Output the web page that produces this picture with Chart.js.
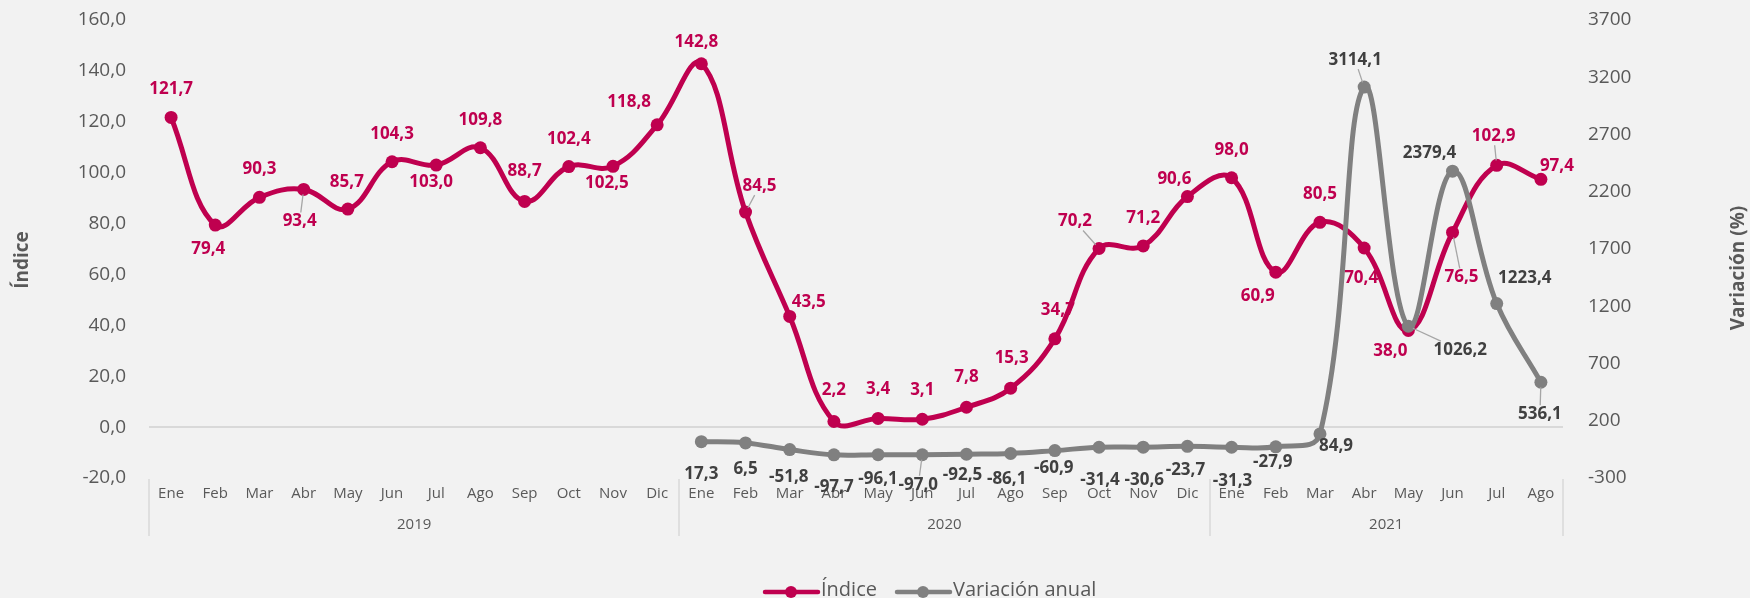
<!DOCTYPE html>
<html lang="es">
<head>
<meta charset="UTF-8">
<title>Índice y variación anual</title>
<script src="https://cdn.jsdelivr.net/npm/chart.js"></script>
<style>
    body {
        margin: 0;
        background-color: #f2f2f2;
    }
    .chart-box {
        width: 1750px;
        height: 598px;
    }
</style>
</head>
<body>
<div class="chart-box"><canvas id="indexChart"></canvas></div>
<script>
const years = ['2019', '2020', '2021'];
const monthsByYear = [
    ['Ene', 'Feb', 'Mar', 'Abr', 'May', 'Jun', 'Jul', 'Ago', 'Sep', 'Oct', 'Nov', 'Dic'],
    ['Ene', 'Feb', 'Mar', 'Abr', 'May', 'Jun', 'Jul', 'Ago', 'Sep', 'Oct', 'Nov', 'Dic'],
    ['Ene', 'Feb', 'Mar', 'Abr', 'May', 'Jun', 'Jul', 'Ago']
];

const indice = [
    121.7, 79.4, 90.3, 93.4, 85.7, 104.3, 103.0, 109.8, 88.7, 102.4, 102.5, 118.8,
    142.8, 84.5, 43.5, 2.2, 3.4, 3.1, 7.8, 15.3, 34.7, 70.2, 71.2, 90.6,
    98.0, 60.9, 80.5, 70.4, 38.0, 76.5, 102.9, 97.4
];
const variacion = [
    null, null, null, null, null, null, null, null, null, null, null, null,
    17.3, 6.5, -51.8, -97.7, -96.1, -97.0, -92.5, -86.1, -60.9, -31.4, -30.6, -23.7,
    -31.3, -27.9, 84.9, 3114.1, 1026.2, 2379.4, 1223.4, 536.1
];

// where each value label sits relative to its point: [dx, dy, leader line]
const indiceLabelPos = [
    [0, -28], [-7, 24], [0, -28], [-4, 32, true], [-1, -27], [0, -28], [-5, 17], [0, -28],
    [0, -30], [0, -27], [-6, 17], [-28, -23],
    [-5, -22], [14, -26, true], [19, -14], [0, -31], [0, -29], [0, -29], [0, -30], [1, -30],
    [3, -29], [-24, -27, true], [0, -28], [-13, -17],
    [0, -28], [-18, 24], [0, -28], [-3, 30], [-18, 21], [9, 45, true], [-3, -29, true], [16, -13]
];
const variacionLabelPos = [
    null, null, null, null, null, null, null, null, null, null, null, null,
    [0, 32], [0, 26], [-1, 28], [0, 32], [0, 25], [-4, 30, true], [-4, 21], [-4, 26],
    [-1, 18], [1, 33], [1, 33], [-2, 24],
    [1, 34], [-3, 15], [16, 12], [-9, -27, true], [52, 24, true], [-23, -18], [28, -25], [-1, 32, true]
];

const CRIMSON = '#bf004f';
const GRAY = '#808080';
const TEXT = '#595959';

const labels = monthsByYear.flat();
const labelSetup = [
    { pos: indiceLabelPos, color: CRIMSON },
    { pos: variacionLabelPos, color: '#404040' }
];

const fmt = v => v.toFixed(1).replace('.', ',');

// value labels, drawn right after each line so later lines pass over them
const pointLabels = {
    id: 'pointLabels',
    afterDatasetDraw(chart, args) {
        const ctx = chart.ctx;
        const setup = labelSetup[args.index];
        const values = chart.data.datasets[args.index].data;
        ctx.save();
        ctx.font = 'bold 17px "Open Sans"';
        ctx.textAlign = 'center';
        ctx.textBaseline = 'middle';
        args.meta.data.forEach((pt, i) => {
            const v = values[i];
            const p = setup.pos[i];
            if (v === null || !p) return;
            const [dx, dy, leader] = p;
            const text = fmt(v);
            if (leader) {
                const len = Math.hypot(dx, dy);
                const ux = dx / len, uy = dy / len;
                const hw = ctx.measureText(text).width / 2 + 2;
                const t = Math.min(hw / Math.max(Math.abs(ux), 1e-6), 9 / Math.max(Math.abs(uy), 1e-6));
                const end = len - t;
                if (end > 8) {
                    ctx.strokeStyle = '#a6a6a6';
                    ctx.lineWidth = 1.3;
                    ctx.beginPath();
                    ctx.moveTo(pt.x + ux * 5, pt.y + uy * 5);
                    ctx.lineTo(pt.x + ux * end, pt.y + uy * end);
                    ctx.stroke();
                }
            }
            ctx.fillStyle = setup.color;
            ctx.fillText(text, pt.x + dx, pt.y + dy);
        });
        ctx.restore();
    }
};

// year groups under the months, axis titles and the legend
const frame = {
    id: 'frame',
    afterDraw(chart) {
        const ctx = chart.ctx;
        const xs = chart.scales.x;
        const area = chart.chartArea;
        const step = xs.width / labels.length;
        ctx.save();

        ctx.strokeStyle = '#d9d9d9';
        ctx.lineWidth = 1.5;
        ctx.fillStyle = TEXT;
        ctx.font = '15px "Open Sans"';
        ctx.textAlign = 'center';
        ctx.textBaseline = 'middle';
        let start = 0;
        const edges = [];
        monthsByYear.forEach((months, k) => {
            const left = xs.getPixelForValue(start) - step / 2;
            const right = xs.getPixelForValue(start + months.length - 1) + step / 2;
            edges.push(left, right);
            ctx.fillText(years[k], (left + right) / 2, area.bottom + 47);
            start += months.length;
        });
        [...new Set(edges.map(e => Math.round(e)))].forEach(x => {
            ctx.beginPath();
            ctx.moveTo(x, area.bottom + 1);
            ctx.lineTo(x, area.bottom + 58);
            ctx.stroke();
        });

        ctx.font = 'bold 19px "Open Sans"';
        ctx.save();
        ctx.translate(23, 260);
        ctx.rotate(-Math.PI / 2);
        ctx.fillText('Índice', 0, 0);
        ctx.restore();
        ctx.save();
        ctx.translate(1739, 268);
        ctx.rotate(-Math.PI / 2);
        ctx.fillText('Variación (%)', 0, 0);
        ctx.restore();

        ctx.font = '20px "Open Sans"';
        ctx.textAlign = 'left';
        const items = [
            { x: 763, text: chart.data.datasets[0].label, color: CRIMSON },
            { x: 895, text: chart.data.datasets[1].label, color: GRAY }
        ];
        items.forEach(it => {
            ctx.strokeStyle = it.color;
            ctx.fillStyle = it.color;
            ctx.lineWidth = 4.5;
            ctx.lineCap = 'round';
            ctx.beginPath();
            ctx.moveTo(it.x + 2, 592);
            ctx.lineTo(it.x + 55, 592);
            ctx.stroke();
            ctx.beginPath();
            ctx.arc(it.x + 28, 592, 6, 0, Math.PI * 2);
            ctx.fill();
            ctx.fillStyle = TEXT;
            ctx.fillText(it.text, it.x + 58, 590);
        });
        ctx.restore();
    }
};

Chart.defaults.font.family = '"Open Sans", sans-serif';

// fixed axis widths; the tick padding should not push the plot down
function fixWidth(width) {
    return scale => {
        scale.width = width;
        scale.paddingTop = 0;
        scale.paddingBottom = 0;
    };
}

function buildChart() {
    new Chart(document.getElementById('indexChart'), {
        type: 'line',
        data: {
            labels: labels,
            datasets: [{
                label: 'Índice',
                data: indice,
                yAxisID: 'y',
                borderColor: CRIMSON,
                backgroundColor: CRIMSON,
                borderWidth: 5,
                pointRadius: 6.5,
                pointHoverRadius: 6.5,
                pointBorderWidth: 0,
                tension: 0.4,
                order: 1
            }, {
                label: 'Variación anual',
                data: variacion,
                yAxisID: 'y2',
                borderColor: GRAY,
                backgroundColor: GRAY,
                borderWidth: 5,
                pointRadius: 6.5,
                pointHoverRadius: 6.5,
                pointBorderWidth: 0,
                tension: 0.4,
                order: 0
            }]
        },
        options: {
            responsive: true,
            maintainAspectRatio: false,
            animation: false,
            layout: { padding: { top: 20, left: 0, right: 0, bottom: 0 } },
            plugins: {
                legend: { display: false },
                tooltip: { enabled: false }
            },
            scales: {
                x: {
                    offset: true,
                    grid: { display: false, drawTicks: false },
                    border: { display: false },
                    ticks: {
                        autoSkip: false,
                        maxRotation: 0,
                        color: TEXT,
                        font: { size: 15 },
                        padding: 7
                    },
                    afterFit(scale) { scale.height = 120; }
                },
                y: {
                    position: 'left',
                    min: -20,
                    max: 160,
                    grid: {
                        drawTicks: false,
                        lineWidth: 2,
                        color: c => c.tick.value === 0 ? '#d9d9d9' : 'rgba(0,0,0,0)'
                    },
                    border: { display: false },
                    ticks: {
                        stepSize: 20,
                        color: TEXT,
                        font: { size: 19 },
                        padding: 23,
                        callback: v => fmt(v)
                    },
                    afterFit: fixWidth(149)
                },
                y2: {
                    position: 'right',
                    min: -300,
                    max: 3700,
                    grid: { display: false, drawTicks: false },
                    border: { display: false },
                    ticks: {
                        stepSize: 500,
                        color: TEXT,
                        font: { size: 19 },
                        padding: 25,
                        callback: v => String(v)
                    },
                    afterFit: fixWidth(187)
                }
            }
        },
        plugins: [pointLabels, frame]
    });
}

Promise.all([
    document.fonts.load('15px "Open Sans"'),
    document.fonts.load('bold 17px "Open Sans"')
]).then(buildChart, buildChart);
</script>
</body>
</html>
